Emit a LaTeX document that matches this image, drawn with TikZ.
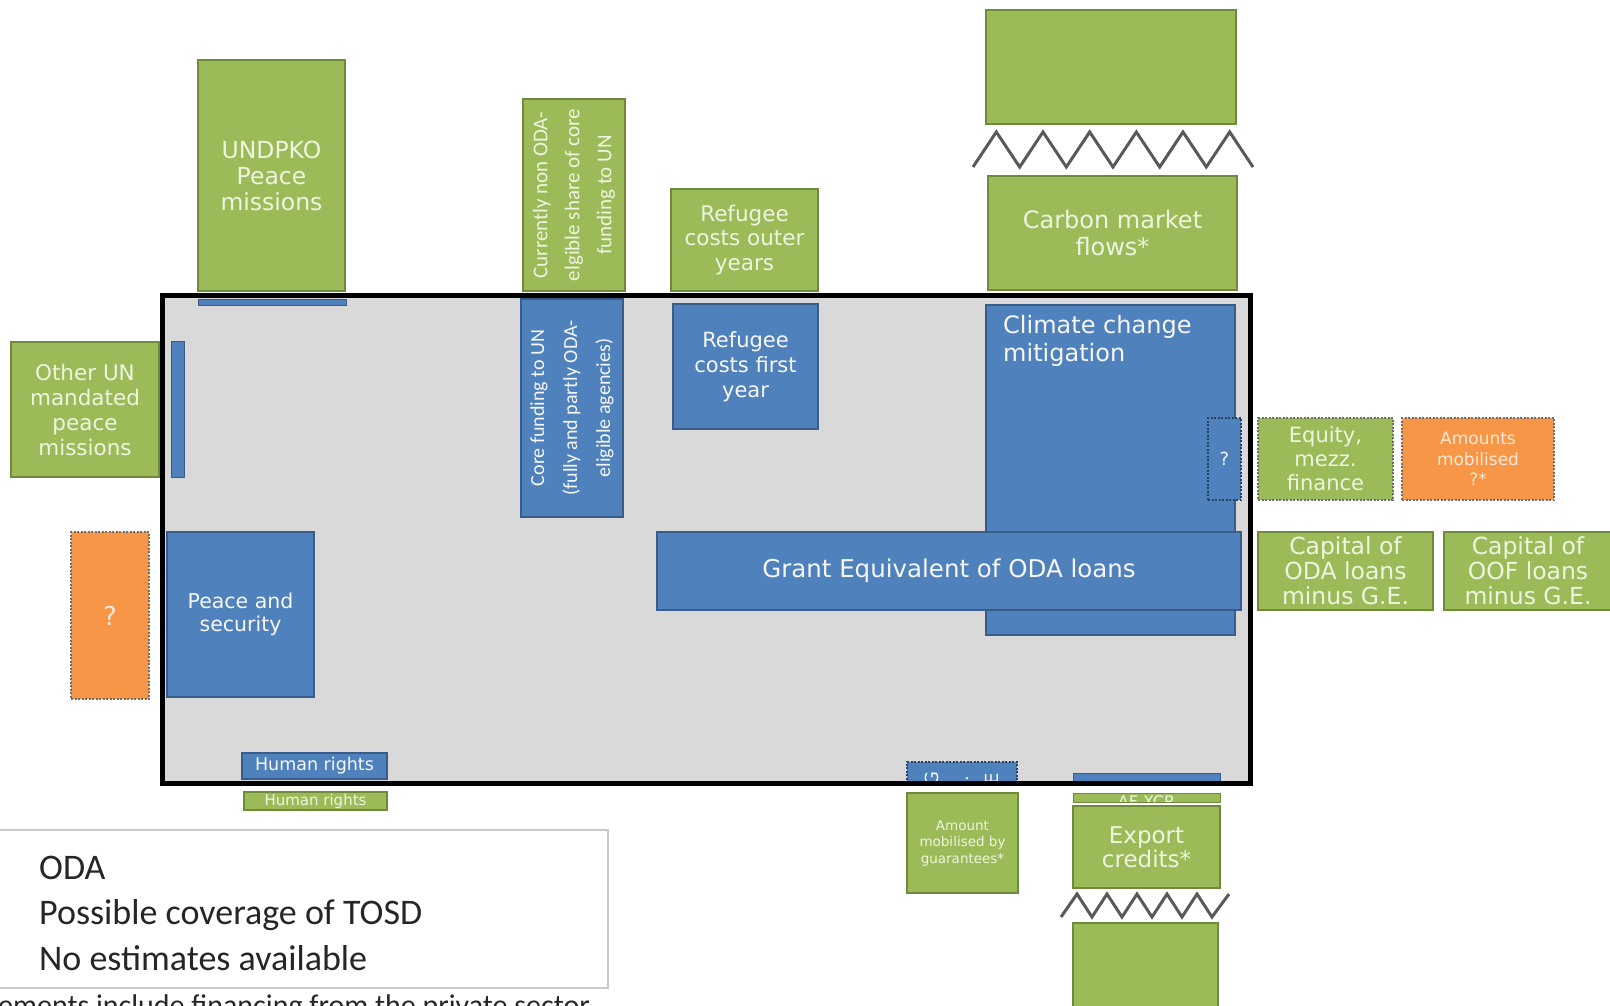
\documentclass[tikz,border=0pt]{standalone}
\usepackage{fontspec}
\setmainfont{DejaVu Sans}
\newfontfamily\carl{Carlito}
\newcommand\myfs[2]{\fontsize{#1pt}{#2pt}\selectfont}
\definecolor{ggreen}{HTML}{9BBB59}
\definecolor{gborder}{HTML}{6E8A3A}
\definecolor{bblue}{HTML}{4F81BD}
\definecolor{bborder}{HTML}{385D8A}
\definecolor{oorange}{HTML}{F79646}
\definecolor{dotgray}{HTML}{6F6F6F}
\definecolor{panel}{HTML}{D9D9D9}
\definecolor{gtext}{HTML}{EEF4E0}
\definecolor{btext}{HTML}{F7F7F7}
\definecolor{otext}{HTML}{FDE9D9}
\definecolor{zigc}{HTML}{595959}
\definecolor{legb}{HTML}{C8C8C8}
\begin{document}
\begin{tikzpicture}[x=1pt,y=-1pt,
  box/.style={line width=1.5pt, inner sep=0pt, align=center},
  gbox/.style={box, draw=gborder, fill=ggreen, text=gtext},
  bbox/.style={box, draw=bborder, fill=bblue, text=btext},
  obox/.style={box, draw=dotgray, fill=oorange, text=otext, dash pattern=on 2pt off 1.5pt},
  dotg/.style={dash pattern=on 2pt off 1.5pt, draw=dotgray},
  zig/.style={draw=zigc, line width=3pt, line join=miter},
  legtext/.style={anchor=base west, inner sep=0pt, font=\carl\myfs{36}{42}, text=black!85}
]
\useasboundingbox (0,0) rectangle (1610,1005);

% legend
\node[draw=legb, fill=white, line width=1.5pt, minimum width=615pt, minimum height=158pt, inner sep=0pt] (legend) at (300.5,909) {};
\node[legtext] (l1) at (39,879) {ODA};
\node[legtext] (l2) at (39,924) {Possible coverage of TOSD};
\node[legtext] (l3) at (39,970) {No estimates available};
\node[anchor=base west, inner sep=0pt, font=\carl\myfs{30}{36}, text=black!85] (note) at (-2,1015) {ements include financing from the private sector};

% main panel fill
\fill[panel] (162,295) rectangle (1250,783);

% top / left items
\node[gbox, minimum width=147pt, minimum height=231pt, font=\myfs{23.5}{26}] (undpko) at (271.5,175.5) {UNDPKO\\Peace\\missions};
\node[bbox, line width=1pt, minimum width=148pt, minimum height=6pt] (undpkobar) at (272,302) {};
\node[gbox, minimum width=148pt, minimum height=135pt, font=\myfs{21.5}{25}] (otherun) at (85,409.5) {Other UN\\mandated\\peace\\missions};
\node[bbox, line width=1pt, minimum width=13pt, minimum height=136pt] (sidebar) at (177.5,409) {};
\node[obox, minimum width=78pt, minimum height=167pt, font=\myfs{26}{30}] (qorange) at (110,615.5) {?};
\node[bbox, minimum width=147pt, minimum height=165pt, font=\myfs{20.5}{23.5}] (peace) at (240.5,614.5) {Peace and\\security};
\node[bbox, minimum width=145pt, minimum height=26pt, font=\myfs{17.5}{20}] (hrblue) at (314.5,766) {Human rights};
\node[gbox, minimum width=143pt, minimum height=18pt, font=\myfs{15}{17}] (hrgreen) at (315.5,801) {Human rights};

% UN core funding
\node[gbox, rotate=90, minimum width=192pt, minimum height=102pt, font=\carl\myfs{21}{32}] (nonoda) at (574,195) {Currently non ODA-\\elgible share of core\\funding to UN};
\node[bbox, rotate=90, minimum width=218pt, minimum height=102pt, font=\carl\myfs{20}{33}] (core) at (572,408) {Core funding to UN\\(fully and partly ODA-\\eligible agencies)};

% refugees
\node[gbox, minimum width=147pt, minimum height=102pt, font=\myfs{21.5}{24.5}] (refout) at (744.5,240) {Refugee\\costs outer\\years};
\node[bbox, minimum width=145pt, minimum height=125pt, font=\myfs{21}{25}] (reffirst) at (745.5,366.5) {Refugee\\costs first\\year};

% carbon / climate
\node[gbox, minimum width=250pt, minimum height=114pt] (carbtop) at (1111,67) {};
\node[gbox, minimum width=249pt, minimum height=114pt, font=\myfs{24}{27.5}] (carbon) at (1112.5,233) {Carbon market\\flows*};
\node[bbox, minimum width=249pt, minimum height=330pt] (climate) at (1110.5,470) {};
\node[anchor=north west, inner sep=0pt, align=left, text=btext, font=\myfs{24}{28}] (climatetxt) at (1003,315) {Climate change\\mitigation};
\node[bbox, draw=bborder!70!black, dash pattern=on 2pt off 1.5pt, minimum width=33pt, minimum height=82pt, font=\myfs{18}{20}] (qblue) at (1224.5,459) {?};
\node[bbox, minimum width=584pt, minimum height=78pt, font=\myfs{24.5}{28}] (grant) at (949,571) {Grant Equivalent of ODA loans};

% right side
\node[gbox, dotg, minimum width=135pt, minimum height=82pt, font=\myfs{21}{24}] (equity) at (1325.5,459) {Equity,\\mezz.\\finance};
\node[obox, minimum width=152pt, minimum height=82pt, font=\myfs{17}{20.5}] (amounts) at (1478,459) {Amounts\\mobilised\\?*};
\node[gbox, minimum width=175pt, minimum height=78pt, font=\myfs{23.5}{25}] (capoda) at (1345.5,571) {Capital of\\ODA loans\\minus G.E.};
\node[gbox, minimum width=168pt, minimum height=78pt, font=\myfs{23.5}{25}] (capoof) at (1528,571) {Capital of\\OOF loans\\minus G.E.};

% bottom items
\node[bbox, draw=bborder!70!black, dash pattern=on 2pt off 1.5pt, minimum width=110pt, minimum height=20pt] (ge) at (962,772) {};
\begin{scope}
  \clip (908,763) rectangle (1016,781);
  \node[rotate=90, align=center, inner sep=0pt, text=btext, font=\myfs{18}{30}] (getxt) at (962,779) {G\\.\\E};
\end{scope}
\node[gbox, minimum width=111pt, minimum height=100pt, font=\myfs{13.5}{16.5}] (amountg) at (962.5,843) {Amount\\mobilised by\\guarantees*};
\node[bbox, line width=1pt, minimum width=147pt, minimum height=9pt] (afbar) at (1146.5,777.5) {};
\node[gbox, line width=1pt, minimum width=147pt, minimum height=9pt] (afxcr) at (1146.5,797.5) {};
\begin{scope}
  \clip (1074,793.5) rectangle (1219,801.5);
  \node[inner sep=0pt, text=gtext, font=\myfs{16}{18}] (afxcrtxt) at (1146.5,802) {AF XCR};
\end{scope}
\node[gbox, minimum width=147pt, minimum height=82pt, font=\myfs{23}{24}] (export) at (1146.5,847) {Export\\credits*};
\node[gbox, minimum width=145pt, minimum height=117pt] (bottomg) at (1145.5,981.5) {};

% main frame border
\draw[black, line width=5pt] (162,295) rectangle (1250,783);

% zigzags
\coordinate (za) at (973,167);
\coordinate (zb) at (1253,167);
\draw[zig] (za) -- (996.3,132) -- (1019.7,167) -- (1043,132) -- (1066.3,167) -- (1089.7,132) -- (1113,167) -- (1136.3,132) -- (1159.7,167) -- (1183,132) -- (1206.3,167) -- (1229.7,132) -- (zb);
\coordinate (zc) at (1061,917);
\coordinate (zd) at (1229,894);
\draw[zig] (zc) -- (1077,894) -- (1092,917) -- (1107,894) -- (1122,917) -- (1137,894) -- (1152,917) -- (1167,894) -- (1182,917) -- (1197,894) -- (1212,917) -- (zd);
\end{tikzpicture}
\end{document}
